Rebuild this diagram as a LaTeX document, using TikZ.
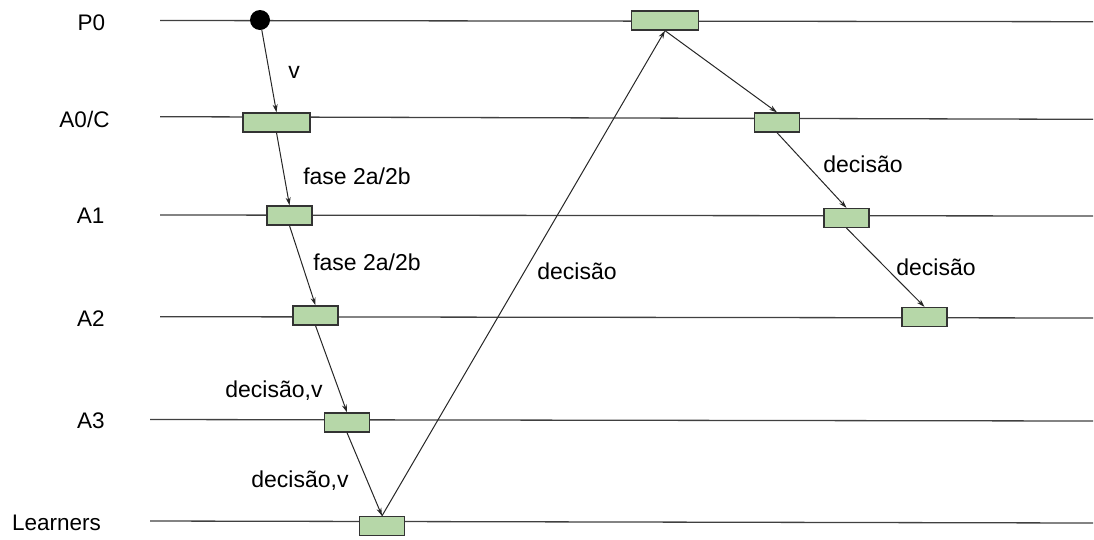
\documentclass[tikz,border=0pt]{standalone}
\usepackage{fontspec}
\setmainfont{Liberation Sans}
\usetikzlibrary{arrows.meta}
\definecolor{boxgreen}{RGB}{182,215,168}
\tikzset{
  msgbox/.style={rectangle, draw=black!80, fill=boxgreen, line width=1.3pt,
    minimum height=19pt, minimum width=45pt, inner sep=0pt},
  widebox/.style={msgbox, minimum width=67pt},
  lane/.style={draw=black!75, line width=1.3pt},
  lanelbl/.style={font=\fontsize{22.5}{26}\selectfont, anchor=base, inner sep=0pt},
  msglbl/.style={font=\fontsize{23}{26}\selectfont, anchor=base, inner sep=0pt},
  flow/.style={-{Stealth[length=8pt, width=5pt]}, draw=black!85, line width=1pt},
}

\begin{document}
\begin{tikzpicture}[x=1pt, y=-1pt]
\useasboundingbox (0,0) rectangle (1094,539);
% ---- lanes ----
\draw[lane] (160,20.5) -- (1093,21.7);
\draw[lane] (160,116.7) -- (1093,119.3);
\draw[lane] (160,215) -- (1093,216);
\draw[lane] (160,316.7) -- (1093,318);
\draw[lane] (150,419.5) -- (1093,421);
\draw[lane] (150,521) -- (1093,523);
\node[lanelbl] (n_p0) at (91.5,30) {P0};
\node[lanelbl] (n_a0) at (84.5,127.3) {A0/C};
\node[lanelbl] (n_a1) at (90.7,223.3) {A1};
\node[lanelbl] (n_a2) at (90.8,326.7) {A2};
\node[lanelbl] (n_a3) at (91,428.3) {A3};
\node[lanelbl] (n_l) at (56.5,530) {Learners};
% ---- proposal down to learners ----
\node[circle, fill=black, minimum size=20pt, inner sep=0pt] (p0_dot) at (260,20) {};
\node[widebox] (l_a0) at (276.5,122.5) {};
\node[msgbox] (l_a1) at (289.5,215.5) {};
\node[msgbox] (l_a2) at (315.5,315.5) {};
\node[msgbox] (l_a3) at (347,422.5) {};
\node[msgbox] (l_l) at (382,526) {};
\draw[flow] (p0_dot)--(l_a0.north); \draw[flow] (l_a0.south)--(l_a1.north);
\draw[flow] (l_a1.south)--(l_a2.north); \draw[flow] (l_a2.south)--(l_a3.north);
\draw[flow] (l_a3.south)--(l_l.north);
\node[msglbl] at (294,78) {v};
\node[msglbl] at (357,184) {fase 2a/2b};
\node[msglbl] at (367,270) {fase 2a/2b};
\node[msglbl] at (274,397) {decisão,v};
\node[msglbl] at (300,487) {decisão,v};
% ---- decision back up and down ----
\node[widebox] (r_p0) at (665,20.5) {};
\node[msgbox] (r_a0) at (777,122.5) {};
\node[msgbox] (r_a1) at (846.5,218) {};
\node[msgbox] (r_a2) at (924.5,317) {};
\draw[flow] (l_l.north)--(r_p0.south); \draw[flow] (r_p0.south)--(r_a0.north);
\draw[flow] (r_a0.south)--(r_a1.north); \draw[flow] (r_a1.south)--(r_a2.north);
\node[msglbl] at (577,279) {decisão};
\node[msglbl] at (863,172) {decisão};
\node[msglbl] at (936,275) {decisão};
\end{tikzpicture}
\end{document}
